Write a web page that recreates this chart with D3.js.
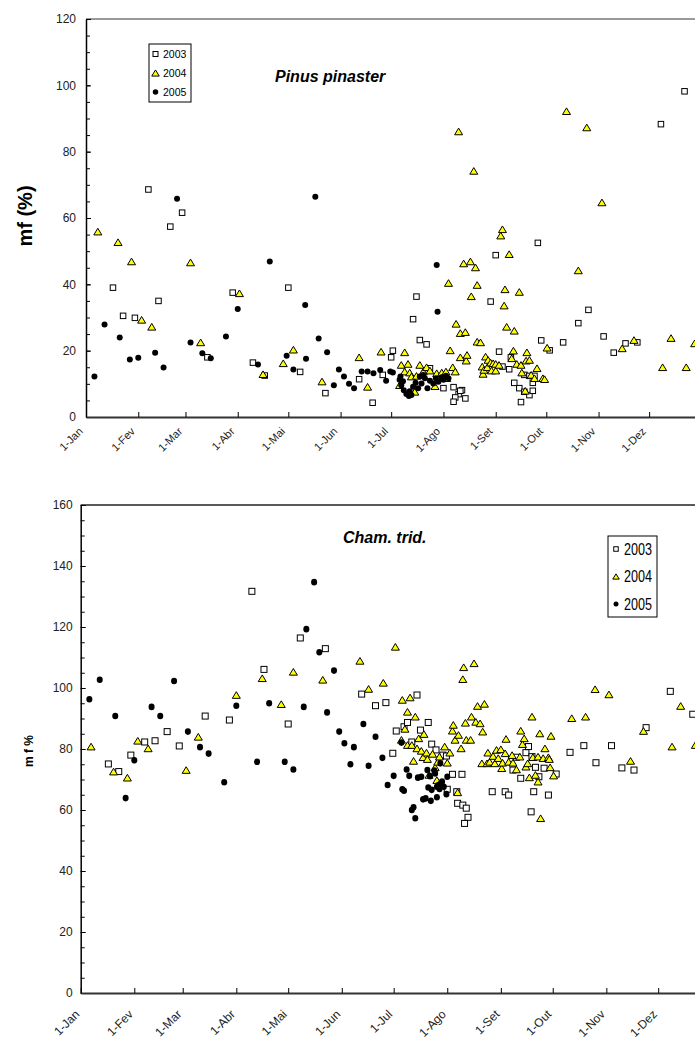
<!DOCTYPE html>
<html>
<head>
<meta charset="utf-8">
<script src="https://cdn.jsdelivr.net/npm/d3@7"></script>
<style>
  body { margin: 0; background: #fff; }
  svg text { font-family: "Liberation Sans", Arial, sans-serif; }
</style>
</head>
<body>
<script>
// day of year (0 = 1-Jan) for the month ticks
const monthStarts = [0, 31, 59, 90, 120, 151, 181, 212, 243, 273, 304, 334];
const monthLabels = ["1-Jan", "1-Fev", "1-Mar", "1-Abr", "1-Mai", "1-Jun",
                     "1-Jul", "1-Ago", "1-Set", "1-Out", "1-Nov", "1-Dez"];
const seriesNames = ["2003", "2004", "2005"];

// Pinus pinaster: [day of year, mf %]
const pinus2003 = [
  [16,39.0],[22,30.5],[29,29.9],[37,68.6],[43,35.0],[50,57.4],[57,61.6],[72,18.0],[87,37.5],[99,16.4],
  [106,12.5],[120,39.0],[127,13.6],[142,7.2],[162,11.4],[170,4.3],[176,12.7],[181,18.0],[182,20.0],[194,29.5],
  [196,36.3],[198,23.2],[202,21.9],[204,14.7],[212,8.7],[218,9.0],[223,8.1],[221,6.9],[219,5.9],[218,4.6],
  [225,5.6],[222,7.9],[240,34.8],[243,48.8],[245,19.7],[247,15.2],[251,14.4],[252,18.0],[254,10.3],[257,8.7],
  [260,7.6],[258,4.5],[263,6.6],[265,7.9],[260,12.7],[263,12.4],[265,10.3],[266,12.4],[268,52.5],[270,23.1],
  [275,20.1],[283,22.5],[292,28.3],[298,32.3],[307,24.3],[313,19.4],[320,22.2],[327,22.5],[341,88.3],[355,98.2]
];
const pinus2004 = [
  [7,55.9],[19,52.7],[27,46.9],[33,29.3],[39,27.2],[62,46.6],[68,22.5],[91,37.3],[105,12.9],[117,16.2],
  [123,20.3],[140,10.7],[162,18.0],[167,9.1],[175,19.7],[186,9.6],[187,15.7],[189,19.5],[189,13.7],[191,16.0],
  [192,13.4],[193,12.2],[195,7.6],[196,12.4],[198,15.7],[200,13.7],[202,15.0],[204,14.0],[207,9.3],[208,13.2],
  [211,13.4],[213.5,13.7],[214,11.7],[215,40.4],[216,20.1],[217.5,15.0],[219,13.7],[219.5,28.1],[221,86.1],[222,25.3],
  [222,18.0],[224,46.3],[225,25.6],[225.5,17.0],[226,18.7],[228,46.9],[228.5,36.4],[230,74.2],[231,45.1],[232,39.8],
  [232,22.7],[234,22.5],[235,15.2],[235.5,13.0],[236,14.2],[237,18.2],[238,15.0],[238.5,17.2],[240,16.4],[240.5,14.0],
  [241.5,16.2],[243,16.0],[243,14.0],[245,15.7],[246,54.7],[247,56.6],[248,33.6],[248.5,38.5],[249.5,27.2],[251,49.1],
  [252.5,17.7],[253.5,20.0],[254,26.0],[255.5,16.0],[257,37.7],[258,15.7],[258.5,13.4],[260.5,7.9],[261,17.0],[261.5,19.5],
  [263,17.2],[264,12.7],[266,11.7],[267.5,14.7],[271,11.7],[272,11.4],[273.5,20.9],[285,92.2],[292,44.2],[297,87.3],
  [306,64.7],[318,20.7],[325,23.2],[342,15.0],[347,23.8],[356,15.0],[361,22.2]
];
const pinus2005 = [
  [5,12.2],[11,27.9],[20,24.0],[26,17.3],[31,17.9],[41,19.4],[46,14.9],[54,65.8],[62,22.5],[69,19.2],
  [74,17.7],[83,24.3],[90,32.6],[102,15.8],[109,46.9],[119,18.5],[123,14.3],[130,33.8],[130.5,17.6],[136,66.4],
  [138,23.7],[143,19.5],[147,9.6],[150,14.3],[153,12.2],[156,10.0],[159,8.7],[163.5,13.7],[167,13.7],[170.5,13.2],
  [174.5,14.2],[178,10.9],[180.5,13.7],[182,13.4],[186,11.2],[186.5,12.2],[187,9.6],[188,10.8],[188.5,8.1],[190,6.9],
  [191.5,6.3],[192,7.8],[193,6.6],[194,9.1],[195.5,10.3],[197,8.7],[198,12.2],[199,10.1],[200,12.7],[201,11.7],
  [202.5,8.7],[204,10.9],[206,10.1],[207.5,11.7],[208,45.8],[208.5,31.7],[209,10.6],[211,12.0],[212,11.2],[213.5,12.4],
  [215,11.7]
];

// Cham. trid.: [day of year, mf %]
const cham2003 = [
  [16,75.1],[22,72.6],[29,78.0],[37,82.3],[43,82.7],[50,85.7],[57,81.0],[72,90.8],[86,89.5],[99,131.7],
  [106,106.1],[120,88.2],[127,116.4],[141.5,112.9],[162.5,98.0],[170.5,94.2],[176.5,95.2],[180.5,78.6],[182.5,85.9],[187,87.3],
  [189,88.7],[191.5,82.3],[194.5,97.7],[196.5,86.2],[201,88.7],[203,81.6],[205.5,79.7],[209.5,78.0],[211.5,77.7],[212,66.8],
  [215,71.7],[217.5,66.0],[218,62.2],[220.5,71.7],[221,61.6],[223,60.6],[224,57.6],[222,55.6],[238,66.0],[245.5,66.0],
  [247.5,64.9],[250,73.1],[252,77.3],[254.5,70.4],[257.5,78.8],[259,80.8],[260.5,59.4],[261,77.5],[262,66.0],[263,74.0],
  [265,70.9],[268,73.7],[270.5,64.9],[275,71.8],[283,78.9],[291,81.1],[298,75.5],[307,81.1],[313,73.8],[320,73.1],
  [327,87.0],[341,98.9],[354,91.4]
];
const cham2004 = [
  [6,80.8],[19,72.6],[27,70.6],[33,82.7],[39,80.2],[61,73.1],[68,84.0],[90,97.7],[105,103.2],[116,94.7],
  [123,105.3],[140,102.7],[161.5,108.9],[166.5,99.7],[175,101.7],[182,113.5],[185.5,83.0],[186,96.1],[187.5,86.6],[189,92.2],
  [189,81.3],[190.5,96.9],[191.5,81.3],[192.5,76.1],[193.5,90.6],[194.5,80.2],[195.5,83.5],[197,79.4],[198,77.3],[198.5,84.9],
  [200,78.8],[200.5,76.7],[201.5,71.5],[203.5,78.4],[205,74.0],[206,69.8],[206.5,75.8],[207.5,77.5],[210.5,80.8],[212,75.5],
  [213.5,78.8],[215,86.0],[215.5,87.9],[216.5,83.0],[218,65.8],[218.5,84.6],[220,80.2],[221,102.9],[221.5,106.8],[222.5,88.6],
  [223,83.0],[225.5,83.0],[226,90.6],[227.5,108.1],[228.5,88.9],[229.5,94.1],[231,88.4],[232.5,85.7],[233.5,94.8],[232,75.3],
  [235,75.3],[235.5,78.8],[236.5,75.8],[238.5,77.7],[239.5,75.3],[240.5,79.7],[241.5,77.0],[243,79.9],[243.5,73.7],[244,75.5],
  [245.5,78.6],[246,83.3],[247.5,75.8],[249.5,78.0],[250,75.5],[252,73.3],[254,77.5],[254.5,86.0],[255.5,81.6],[256.5,83.5],
  [257.5,74.2],[258.5,75.3],[259.5,70.7],[261,90.6],[261.5,77.3],[263,71.5],[264.5,69.3],[264.5,77.5],[265.5,85.1],[266,57.3],
  [267.5,77.0],[268.5,80.2],[270.5,77.3],[271,76.7],[271.5,74.0],[272,84.3],[273.5,71.3],[284,90.1],[292,90.6],[297.5,99.6],
  [305.5,97.9],[318,76.1],[325.5,85.9],[342,80.8],[347,94.1],[355.5,81.3]
];
const cham2005 = [
  [5,96.3],[11,102.7],[20,90.8],[26,63.9],[31,76.3],[41,93.8],[46,90.8],[54,102.3],[62,85.7],[69,80.6],
  [74,78.5],[83,69.1],[90,94.2],[102,75.8],[109,95.0],[118,75.8],[123,73.3],[129,93.8],[130.5,119.3],[135,134.7],
  [138,111.7],[142.5,92.0],[146.5,105.7],[149.5,85.7],[152.5,81.9],[156,75.0],[158,80.6],[163.5,88.2],[166.5,74.5],[170.5,84.0],
  [174.5,77.1],[177.5,68.2],[181,71.2],[185.5,82.1],[186,66.8],[187,66.3],[188.5,73.3],[190,71.2],[191.5,60.0],[192.5,60.9],
  [193.5,57.3],[195,70.6],[197,70.9],[198,63.5],[199.5,63.8],[200.5,73.1],[201,67.4],[202,71.1],[202.5,63.0],[203,66.6],
  [204.5,72.9],[205,72.0],[206,64.2],[206,67.6],[207,68.2],[207.5,66.9],[208,68.5],[208,75.3],[209,69.3],[210,67.6],
  [211.5,65.2],[212,70.9]
];

const svg = d3.select("body").append("svg")
  .attr("width", 695)
  .attr("height", 1041);

// one marker of a series: 0 = open square, 1 = yellow triangle, 2 = black dot
function drawMarker(g, kind, cx, cy, s, stretch) {
  if (kind === 0) {
    g.append("rect")
      .attr("x", cx - s / 2).attr("y", cy - s / 2)
      .attr("width", s).attr("height", s)
      .attr("fill", "#fff").attr("stroke", "#000").attr("stroke-width", 1);
  } else if (kind === 1) {
    let h = s * 0.95;
    g.append("path")
      .attr("d", `M${cx},${cy - h / 2}L${cx + s / 2 + 0.5},${cy + h / 2}L${cx - s / 2 - 0.5},${cy + h / 2}Z`)
      .attr("fill", "#ffff00").attr("stroke", "#000").attr("stroke-width", 1);
  } else {
    g.append("ellipse")
      .attr("cx", cx).attr("cy", cy)
      .attr("rx", s / 2).attr("ry", s / 2 * (stretch || 1))
      .attr("fill", "#000");
  }
}

function drawChart(opt) {
  let x = d3.scaleLinear().domain([0, 365]).range([opt.left, opt.right]);
  let y = d3.scaleLinear().domain([0, opt.yMax]).range([opt.bottom, opt.top]);
  let g = svg.append("g");

  // top frame line
  g.append("line")
    .attr("x1", opt.left).attr("x2", opt.right)
    .attr("y1", opt.top).attr("y2", opt.top)
    .attr("stroke", opt.frameColor).attr("stroke-width", 1.5);

  // minor y ticks every 5
  g.append("g")
    .attr("transform", `translate(${opt.left},0)`)
    .call(d3.axisLeft(y).tickValues(d3.range(0, opt.yMax + 1, 5)).tickSize(-4).tickFormat(""))
    .call(a => a.select(".domain").remove());

  // y axis
  let yAxis = g.append("g")
    .attr("transform", `translate(${opt.left},0)`)
    .call(d3.axisLeft(y).tickValues(d3.range(0, opt.yMax + 1, 20))
      .tickSize(-5).tickSizeOuter(0).tickPadding(opt.yPad));
  yAxis.selectAll("text").style("font-size", opt.yFont).attr("fill", "#222");
  yAxis.select(".domain").attr("stroke-width", 1.5);

  // x axis
  let xAxis = g.append("g")
    .attr("transform", `translate(0,${opt.bottom})`)
    .call(d3.axisBottom(x).tickValues(monthStarts).tickSize(-5).tickSizeOuter(0)
      .tickFormat((d, i) => monthLabels[i]));
  xAxis.select(".domain").attr("stroke", "#333").attr("stroke-width", 2);
  xAxis.selectAll(".tick text")
    .attr("y", 0).attr("dy", 0)
    .attr("transform", `translate(${opt.lblDx},${opt.lblDy}) rotate(-45)`)
    .style("text-anchor", "end")
    .style("font-size", opt.xFont)
    .attr("fill", "#222");

  // points, 2003 first so 2005 ends on top
  let pts = g.append("g");
  opt.series.forEach((data, k) => {
    data.forEach(d => drawMarker(pts, k, x(d[0]), y(d[1]), opt.markSize[k], opt.circleStretch));
  });

  // title
  g.append("text")
    .attr("x", opt.titleX).attr("y", opt.titleY)
    .text(opt.title)
    .style("font-size", opt.titleFont)
    .style("font-weight", "bold")
    .style("font-style", "italic");

  // y axis title
  g.append("text")
    .attr("transform", `translate(${opt.yLabelX},${opt.yLabelY}) rotate(-90)`)
    .attr("text-anchor", "middle")
    .text(opt.yLabel)
    .style("font-size", opt.yLabelFont)
    .style("font-weight", "bold");

  // legend
  let L = opt.legend;
  g.append("rect")
    .attr("x", L.x).attr("y", L.y).attr("width", L.w).attr("height", L.h)
    .attr("fill", "#fff").attr("stroke", "#000").attr("stroke-width", 1);
  seriesNames.forEach((name, k) => {
    let cy = L.y + L.first + k * L.step;
    drawMarker(g, k, L.x + L.markX, cy, L.markSize[k], 1);
    let t = g.append("text")
      .attr("x", L.x + L.textX).attr("y", cy)
      .attr("dy", "0.36em")
      .text(name)
      .style("font-size", L.font);
    if (L.textLen) t.attr("textLength", L.textLen).attr("lengthAdjust", "spacingAndGlyphs");
  });
}

drawChart({
  left: 86, right: 701.4, top: 19, bottom: 417, yMax: 120,
  frameColor: "#777",
  yFont: "12px", yPad: 10, xFont: "11px", lblDx: -3, lblDy: 15,
  series: [pinus2003, pinus2004, pinus2005],
  markSize: [5.5, 7, 6], circleStretch: 1,
  title: "Pinus pinaster", titleX: 275, titleY: 82, titleFont: "16px",
  yLabel: "mf (%)", yLabelX: 32, yLabelY: 216, yLabelFont: "20px",
  legend: { x: 149, y: 44, w: 42, h: 58, first: 10, step: 19, markX: 6.5, textX: 14,
            markSize: [5, 6.5, 5.5], font: "10.5px" }
});

drawChart({
  left: 80.7, right: 711.8, top: 505, bottom: 993, yMax: 160,
  frameColor: "#222",
  yFont: "12px", yPad: 8, xFont: "12px", lblDx: -1, lblDy: 22,
  series: [cham2003, cham2004, cham2005],
  markSize: [6, 7, 6], circleStretch: 1.1,
  title: "Cham. trid.", titleX: 343, titleY: 543, titleFont: "16px",
  yLabel: "m f %", yLabelX: 33, yLabelY: 751, yLabelFont: "12px",
  legend: { x: 608, y: 536, w: 49, h: 81, first: 13, step: 27.5, markX: 8, textX: 16,
            markSize: [4.5, 5.5, 5], font: "16px", textLen: 28 }
});
</script>
</body>
</html>
